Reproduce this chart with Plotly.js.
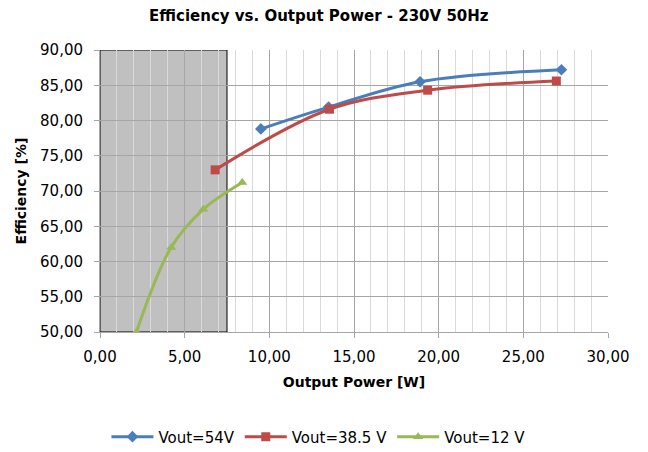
<!DOCTYPE html>
<html>
<head>
<meta charset="utf-8">
<script src="https://cdn.plot.ly/plotly-3.0.1.min.js"></script>
<style>html,body{margin:0;padding:0;background:#fff;}#chart{width:648px;height:452px;}</style>
</head>
<body>
<div id="chart"></div>
<script>
const seriesNames = ["Vout=54V", "Vout=38.5 V", "Vout=12 V"];
const x54 = [9.5, 13.5, 18.9, 27.25];
const y54 = [78.8, 81.9, 85.5, 87.2];
const x385 = [6.8, 13.55, 19.35, 26.95];
const y385 = [73.0, 81.6, 84.3, 85.6];
const x12 = [2.15, 4.2, 6.1, 8.4];
const y12 = [50.0, 62.0, 67.4, 71.2];
const shadeX = [0, 7.5];
const shadeY = [50, 90];

const font = "'DejaVu Sans', 'Open Sans', sans-serif";

const traces = [
  {x: x54, y: y54, name: seriesNames[0], mode: "lines+markers", line: {color: "#4A7EBB", width: 3, shape: "spline"}, marker: {symbol: "diamond", size: 9, color: "#4A7EBB"}},
  {x: x385, y: y385, name: seriesNames[1], mode: "lines+markers", line: {color: "#BE4B48", width: 3, shape: "spline"}, marker: {symbol: "square", size: 9, color: "#BE4B48"}},
  {x: x12, y: y12, name: seriesNames[2], mode: "lines+markers", line: {color: "#98B954", width: 3, shape: "spline"}, marker: {symbol: "triangle-up", size: 9, color: "#98B954"}}
];

const layout = {
  width: 648, height: 452,
  margin: {l: 100, r: 40, t: 50, b: 120, autoexpand: false},
  paper_bgcolor: "#fff", plot_bgcolor: "#fff",
  separators: ",.",
  font: {family: font, size: 15, color: "#000"},
  title: {text: "<b>Efficiency vs. Output Power - 230V 50Hz</b>", x: 0.492, xref: "container", y: 0.965, yanchor: "middle", font: {family: font, size: 15, color: "#000"}},
  showlegend: true,
  legend: {orientation: "h", x: 0.43, xanchor: "center", y: -0.372, yanchor: "middle", font: {family: font, size: 15, color: "#000"}, traceorder: "normal", itemwidth: 42},
  xaxis: {
    range: [0, 30], dtick: 5, tick0: 0, tickformat: ".2f",
    showgrid: true, gridcolor: "#A6A6A6", gridwidth: 1,
    minor: {dtick: 1, showgrid: true, gridcolor: "#D9D9D9", gridwidth: 1},
    showline: true, linecolor: "#A6A6A6", linewidth: 1,
    ticks: "outside", ticklen: 5, tickcolor: "#A6A6A6",
    ticklabelstandoff: 6,
    zeroline: false, fixedrange: true,
    title: {text: "<b>Output Power [W]</b>", standoff: 12, font: {family: font, size: 14, color: "#000"}}
  },
  yaxis: {
    range: [50, 90], dtick: 5, tick0: 50, tickformat: ".2f",
    showgrid: true, gridcolor: "#A6A6A6", gridwidth: 1,
    showline: true, linecolor: "#A6A6A6", linewidth: 1,
    ticks: "outside", ticklen: 5, tickcolor: "#A6A6A6",
    ticklabelstandoff: 8,
    zeroline: false, fixedrange: true,
    title: {text: "<b>Efficiency [%]</b>", standoff: 10, font: {family: font, size: 14, color: "#000"}}
  },
  shapes: [
    {type: "rect", xref: "x", yref: "y", x0: shadeX[0], x1: shadeX[1], y0: shadeY[0], y1: shadeY[1], fillcolor: "#C0C0C0", line: {color: "#000", width: 1}, layer: "below"}
  ]
};

Plotly.newPlot("chart", traces, layout, {displayModeBar: false, staticPlot: true});
</script>
</body>
</html>
